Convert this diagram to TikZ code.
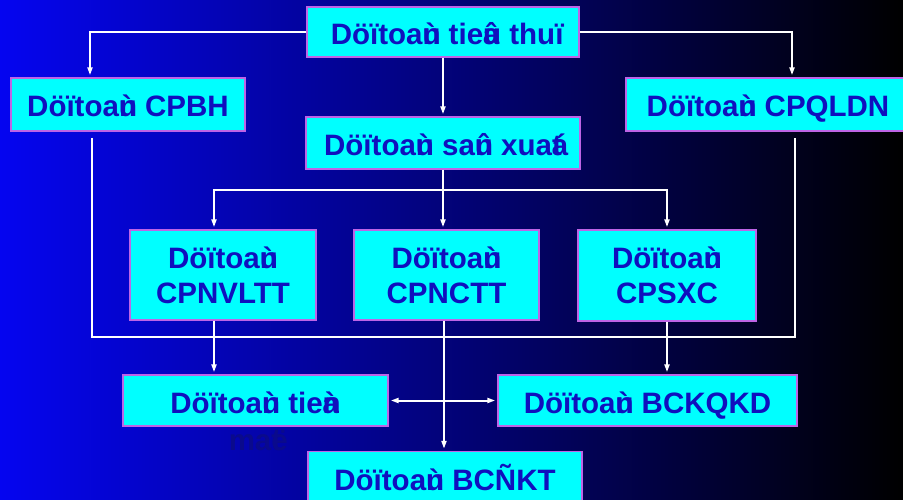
\documentclass[tikz,border=0pt]{standalone}
\usepackage{fontspec}
\setmainfont{Liberation Sans}
\usetikzlibrary{arrows.meta}
\definecolor{boxfill}{RGB}{0,255,255}
\definecolor{boxedge}{RGB}{190,100,230}
\definecolor{ink}{RGB}{16,16,190}
\definecolor{inkdim}{RGB}{10,10,140}
\definecolor{bgleft}{RGB}{5,5,240}
% tone marks of the VNI text take no width of their own
\newcommand\mk[1]{\rlap{#1}}

\begin{document}
\begin{tikzpicture}[x=1pt,y=-1pt,
  panel/.style={draw=boxedge, fill=boxfill, line width=1.4pt, text=ink,
    inner sep=0pt, align=center,
    font=\fontsize{29.5}{35}\selectfont\bfseries},
  oneline/.style={panel, text height=25pt, text depth=0pt},
  link/.style={draw=white, line width=2pt},
  arr/.style={link, -{Triangle[length=8pt,width=5pt]}, shorten >=2pt}
]
\clip (0,0) rectangle (903,500);
\shade[left color=bgleft, right color=black] (0,0) rectangle (903,500);

% boxes
\node[oneline, minimum width=272pt, minimum height=50pt] (top) at (443,32)
  {Dö\mk{ï} toa\mk{ù}n tie\mk{â}u thu\mk{ï}};
\node[oneline, minimum width=234pt, minimum height=53pt] (cpbh) at (128,104.5)
  {Dö\mk{ï} toa\mk{ù}n CPBH};
\node[oneline, minimum width=284pt, minimum height=53pt] (cpqldn) at (768,104.5)
  {Dö\mk{ï} toa\mk{ù}n CPQLDN};
\node[oneline, minimum width=274pt, minimum height=52pt] (sx) at (443,143)
  {Dö\mk{ï} toa\mk{ù}n sa\mk{û}n xua\mk{á}t};
\node[panel, minimum width=186pt, minimum height=90pt] (nvl) at (223,275)
  {Dö\mk{ï} toa\mk{ù}n\\CPNVLTT};
\node[panel, minimum width=185pt, minimum height=90pt] (nct) at (446.5,275)
  {Dö\mk{ï} toa\mk{ù}n\\CPNCTT};
\node[panel, minimum width=178pt, minimum height=91pt] (sxc) at (667,275.5)
  {Dö\mk{ï} toa\mk{ù}n\\CPSXC};
\node[oneline, minimum width=265pt, minimum height=51pt] (tien) at (255.5,400.5)
  {Dö\mk{ï} toa\mk{ù}n tie\mk{à}n};
\node[text=inkdim, inner sep=0pt, font=\fontsize{29.5}{35}\selectfont\bfseries]
  (mat) at (255,440) {ma\mk{ë}t};
\node[oneline, minimum width=299pt, minimum height=51pt] (kq) at (647.5,400.5)
  {Dö\mk{ï} toa\mk{ù}n BCKQKD};
\node[oneline, minimum width=274pt, minimum height=53pt] (bc) at (445,478)
  {Dö\mk{ï} toa\mk{ù}n BCÑKT};

% connectors
\coordinate (bus) at (443,190);
\coordinate (ul) at (92,138);
\coordinate (ur) at (795,138);
\coordinate (floor) at (0,337);

\draw[arr] (top.west) -| ([xshift=-38pt]cpbh.north);
\draw[arr] (top.east) -| ([xshift=24pt]cpqldn.north);
\draw[arr] (top.south) -- (sx.north);

\draw[link] (sx.south) -- (bus);
\draw[arr] (bus) -| ([xshift=-9pt]nvl.north);
\draw[arr] (bus) -- (bus |- nct.north);
\draw[arr] (bus) -| (sxc.north);

\draw[link] (ul) |- (ur |- floor) -- (ur);

\draw[arr] ([xshift=-9pt]nvl.south) -- ([xshift=-9pt]nvl.south |- tien.north);
\draw[arr] ([xshift=-2.5pt]nct.south) -- ([xshift=-2.5pt]nct.south |- bc.north);
\draw[arr] (sxc.south) -- (sxc.south |- kq.north);

\draw[link, {Triangle[length=8pt,width=5pt]}-{Triangle[length=8pt,width=5pt]},
  shorten <=2pt, shorten >=2pt] (tien.east) -- (kq.west);
\end{tikzpicture}
\end{document}
